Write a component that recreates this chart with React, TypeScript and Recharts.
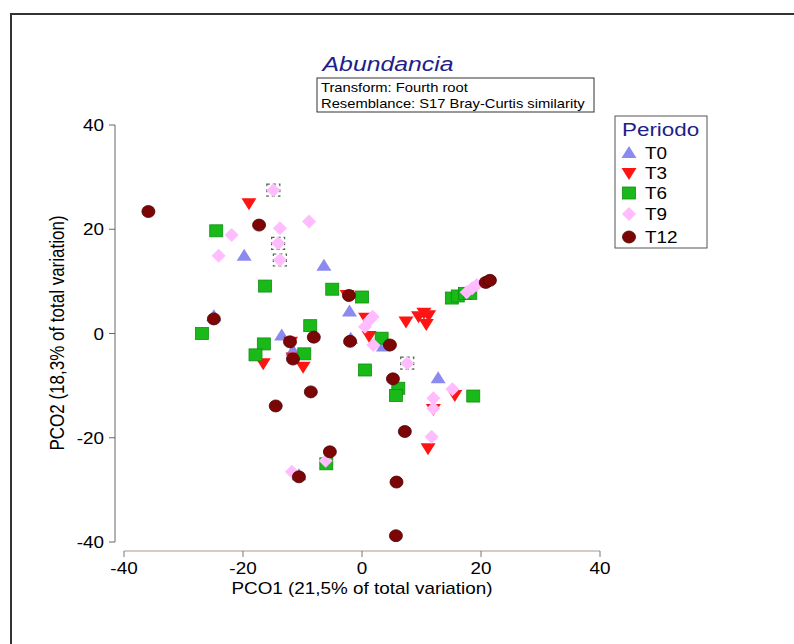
import React from 'react';
import { ScatterChart, Scatter, XAxis, YAxis } from 'recharts';

// PCO scores, [PCO1, PCO2]
const T0: [number, number][] = [
  [-19.8, 14.9], [-24.9, 3.3], [-6.4, 13.0], [-2.1, 4.2], [-13.5, -0.4],
  [-11.6, -3.3], [-1.9, -1.0], [3.6, -2.5], [12.8, -8.6], [-10.6, -27.2],
];
const T3: [number, number][] = [
  [-19.0, 25.0], [-2.5, 7.4], [7.4, 2.3], [9.5, 3.3], [10.4, 4.0], [11.2, 3.5],
  [10.8, 1.8], [0.6, 3.0], [1.2, -0.5], [-16.6, -5.7], [-9.9, -6.4], [-12.0, -1.6],
  [-11.6, -4.6], [12.0, -14.5], [15.6, -11.8], [11.1, -22.0],
];
const T6: [number, number][] = [
  [-24.5, 19.7], [-16.3, 9.1], [-26.9, 0.0], [-16.5, -2.0], [-17.9, -4.1],
  [-9.7, -3.9], [-8.7, 1.5], [-5.0, 8.5], [0.0, 7.0], [3.3, -0.9], [0.5, -7.0],
  [6.1, -10.5], [5.7, -11.9], [18.7, -12.0], [15.1, 6.8], [16.1, 7.2], [17.3, 7.7],
  [18.2, 7.7], [-6.0, -25.0],
];
const T9: [number, number][] = [
  [-21.9, 18.9], [-24.1, 14.9], [-13.8, 20.2], [-8.9, 21.5], [1.3, 2.6], [0.5, 1.3],
  [1.8, 3.2], [1.9, -2.2], [15.2, -10.7], [12.0, -12.4], [12.0, -14.4], [11.7, -19.8],
  [-11.8, -26.5], [-6.1, -24.4], [17.6, 7.9], [18.5, 8.7], [19.3, 9.3],
];
// T9 samples drawn with the dashed box around them
const T9_BOXED: [number, number][] = [
  [-14.9, 27.5], [-14.1, 17.3], [-13.8, 14.1], [7.6, -5.7],
];
const T12: [number, number][] = [
  [-35.9, 23.4], [-17.3, 20.8], [-24.9, 2.8], [-2.2, 7.3], [-12.1, -1.6], [-11.6, -4.9],
  [-8.1, -0.7], [-2.0, -1.5], [4.7, -2.2], [-8.6, -11.2], [-14.5, -13.9], [-5.4, -22.7],
  [-10.6, -27.5], [5.2, -8.7], [7.2, -18.8], [5.8, -28.5], [5.7, -38.8], [20.8, 9.8],
  [21.5, 10.2],
];

const TICKS = [-40, -20, 0, 20, 40];
const GROUPS = ['T0', 'T3', 'T6', 'T9', 'T12'];

const toPts = (arr: [number, number][]) => arr.map(([x, y]) => ({ x, y }));

const FONT = "'Liberation Sans', Arial, sans-serif";
const SX = 1.18; // the original picture is stretched sideways
const NAVY = '#1e1e8c';

const markers: Record<string, (cx: number, cy: number) => React.ReactElement> = {
  T0: (cx, cy) => (
    <polygon points={`${cx},${cy - 7} ${cx - 7.5},${cy + 5} ${cx + 7.5},${cy + 5}`} fill="#8a8af0" />
  ),
  T3: (cx, cy) => (
    <polygon points={`${cx - 7.5},${cy - 5} ${cx + 7.5},${cy - 5} ${cx},${cy + 7}`} fill="#ff1414" />
  ),
  T6: (cx, cy) => (
    <rect x={cx - 6.5} y={cy - 6} width={13} height={12} fill="#19b919" stroke="#0f8f0f" strokeWidth={0.8} />
  ),
  T9: (cx, cy) => (
    <polygon points={`${cx},${cy - 7} ${cx + 7},${cy} ${cx},${cy + 7} ${cx - 7},${cy}`} fill="#ffbcff" />
  ),
  T12: (cx, cy) => (
    <ellipse cx={cx} cy={cy} rx={6.5} ry={6} fill="#7c0606" stroke="#4d0000" strokeWidth={0.8} />
  ),
};

const boxedT9 = (cx: number, cy: number) => (
  <g>
    <rect x={cx - 6.5} y={cy - 6} width={13} height={12} fill="none" stroke="#4a6a4a" strokeWidth={1.2} strokeDasharray="3 3" />
    {markers.T9(cx, cy)}
  </g>
);

function Txt({ x, y, size, anchor = 'start', color = '#000', italic = false, rotate = 0, children }: any) {
  const tr = `translate(${x},${y}) scale(${SX},1)` + (rotate ? ` rotate(${rotate})` : '');
  return (
    <text transform={tr} textAnchor={anchor} fontSize={size} fontFamily={FONT} fill={color} fontStyle={italic ? 'italic' : 'normal'}>
      {children}
    </text>
  );
}

const XTick = ({ x, y, payload }: any) => (
  <Txt x={x} y={y + 15} size={16} anchor="middle">{payload.value}</Txt>
);
const YTick = ({ x, y, payload }: any) => (
  <Txt x={x - 3} y={y + 6} size={16} anchor="end">{payload.value}</Txt>
);

export default function App() {
  return (
    <div style={{ position: 'absolute', left: 0, top: 0, width: 794, height: 644, background: '#fff', overflow: 'hidden' }}>
      <div style={{ position: 'absolute', left: 10, top: 13, width: 800, height: 700, border: '2px solid #333' }} />
      <div style={{ position: 'absolute', left: 0, top: 0 }}>
        <ScatterChart width={794} height={644} margin={{ top: 125, right: 194, left: 55, bottom: 53 }}>
          <XAxis
            type="number"
            dataKey="x"
            domain={[-40, 40]}
            ticks={TICKS}
            padding={{ left: 9, right: 0 }}
            height={40}
            tickSize={6}
            axisLine={{ stroke: '#a89a8c', strokeDasharray: '0 9 476 0' }}
            tickLine={{ stroke: '#777' }}
            tick={<XTick />}
            allowDataOverflow
          />
          <YAxis
            type="number"
            dataKey="y"
            domain={[-40, 40]}
            ticks={TICKS}
            padding={{ top: 0, bottom: 9 }}
            width={60}
            tickSize={6}
            axisLine={{ stroke: '#666', strokeDasharray: '417 9' }}
            tickLine={{ stroke: '#666' }}
            tick={<YTick />}
            allowDataOverflow
          />
          <Scatter name="T0" data={toPts(T0)} shape={(p: any) => markers.T0(p.cx, p.cy)} isAnimationActive={false} />
          <Scatter name="T3" data={toPts(T3)} shape={(p: any) => markers.T3(p.cx, p.cy)} isAnimationActive={false} />
          <Scatter name="T6" data={toPts(T6)} shape={(p: any) => markers.T6(p.cx, p.cy)} isAnimationActive={false} />
          <Scatter name="T9" data={toPts(T9)} shape={(p: any) => markers.T9(p.cx, p.cy)} isAnimationActive={false} />
          <Scatter name="T9b" data={toPts(T9_BOXED)} shape={(p: any) => boxedT9(p.cx, p.cy)} isAnimationActive={false} legendType="none" />
          <Scatter name="T12" data={toPts(T12)} shape={(p: any) => markers.T12(p.cx, p.cy)} isAnimationActive={false} />
        </ScatterChart>
      </div>
      <svg width={794} height={644} style={{ position: 'absolute', left: 0, top: 0, pointerEvents: 'none' }}>
        <Txt x={388} y={71} size={21} anchor="middle" color={NAVY} italic>Abundancia</Txt>
        <rect x={317} y={78} width={277} height={34} fill="none" stroke="#333" strokeWidth={1} />
        <Txt x={321} y={92} size={12.5}>Transform: Fourth root</Txt>
        <Txt x={321} y={108} size={12.5}>Resemblance: S17 Bray-Curtis similarity</Txt>

        <Txt x={362} y={594} size={16} anchor="middle">PCO1 (21,5% of total variation)</Txt>
        <Txt x={64} y={333} size={17} anchor="middle" rotate={-90}>PCO2 (18,3% of total variation)</Txt>

        <rect x={615} y={116} width={92} height={132} fill="none" stroke="#555" strokeWidth={1} />
        <Txt x={622} y={136} size={19} color={NAVY}>Periodo</Txt>
        {GROUPS.map((g, i) => {
          const cy = [153, 173, 193, 214, 237][i];
          return (
            <g key={g}>
              {markers[g](629, cy)}
              <Txt x={645} y={cy + 6} size={16}>{g}</Txt>
            </g>
          );
        })}
      </svg>
    </div>
  );
}
